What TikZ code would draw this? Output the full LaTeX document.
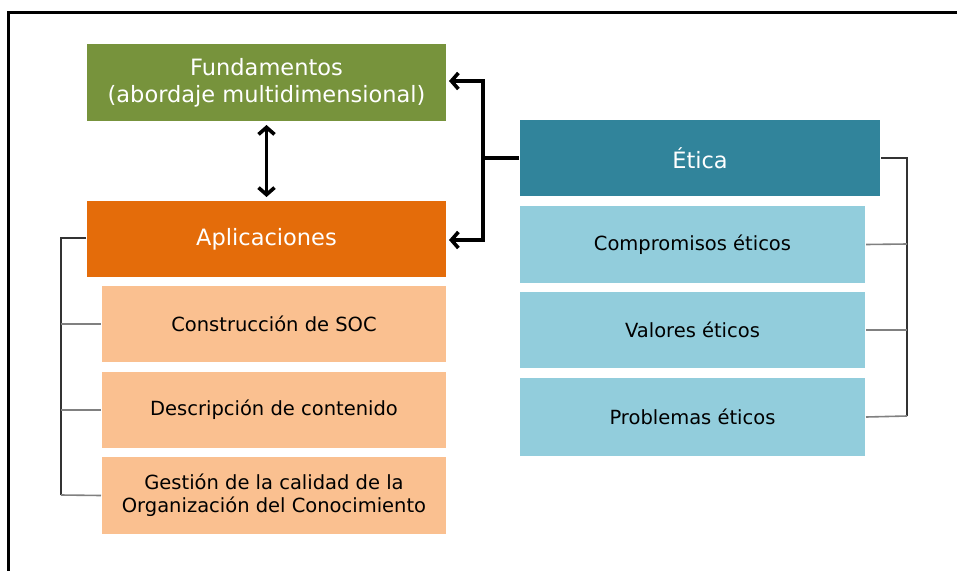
\documentclass[tikz,border=0pt]{standalone}
\usepackage{fontspec}
\setmainfont{DejaVu Sans}
\usetikzlibrary{arrows.meta,calc}
\definecolor{olive}{HTML}{77933C}
\definecolor{orng}{HTML}{E46C0A}
\definecolor{peach}{HTML}{FAC090}
\definecolor{teal}{HTML}{31849B}
\definecolor{lblue}{HTML}{92CDDC}
\tikzset{
  box/.style={draw=white, line width=1pt, inner sep=0pt, align=center, anchor=north west},
  mainbox/.style={box, font=\fontsize{22.5}{27}\selectfont, text=white},
  subbox/.style={box, font=\fontsize{19.5}{23}\selectfont, text=black},
  bigarrow/.style={line width=3.6pt, {Straight Barb[length=7pt,width=16pt]}-{Straight Barb[length=7pt,width=16pt]}},
  onearrow/.style={line width=3.6pt, -{Straight Barb[length=7pt,width=16pt]}},
  brk/.style={draw=black!80, line width=1.6pt},
  tick/.style={draw=black!50, line width=1.6pt}
}
\begin{document}
\begin{tikzpicture}[x=1pt,y=-1pt]
\useasboundingbox (0,0) rectangle (957,570);
\draw[line width=3.2pt] (8.5,572) -- (8.5,12.5) -- (960,12.5);
% left column
\node[mainbox, fill=olive, minimum width=360, minimum height=78] (fund) at (86,43) {Fundamentos\\(abordaje multidimensional)};
\node[mainbox, fill=orng, minimum width=360, minimum height=77] (apl) at (86,200) {Aplicaciones};
\node[subbox, fill=peach, minimum width=345, minimum height=77] (soc) at (101,285) {Construcción de SOC};
\node[subbox, fill=peach, minimum width=345, minimum height=77] (desc) at (101,371) {Descripción de contenido};
\node[subbox, fill=peach, minimum width=345, minimum height=78] (gest) at (101,456) {Gestión de la calidad de la\\Organización del Conocimiento};
% right column
\node[mainbox, fill=teal, minimum width=361, minimum height=77] (etica) at (519,119) {Ética};
\node[subbox, fill=lblue, minimum width=346, minimum height=78] (comp) at (519,205) {Compromisos éticos};
\node[subbox, fill=lblue, minimum width=346, minimum height=77] (val) at (519,291) {Valores éticos};
\node[subbox, fill=lblue, minimum width=346, minimum height=79] (prob) at (519,377) {Problemas éticos};
% arrows
\draw[bigarrow] ([yshift=-3]fund.south) -- ([yshift=3]apl.north);
\coordinate (j) at (483,158);
\draw[line width=3.6pt] (etica.west) -- (j);
\draw[onearrow] ($(j)+(0,1.8)$) |- ([xshift=2]fund.east |- 0,81);
\draw[onearrow] ($(j)+(0,-1.8)$) |- ([xshift=2]apl.east |- 0,240);
% left bracket
\coordinate (lb) at (61,238);
\draw[brk] (apl.west |- lb) -- (lb) -- (61,495);
\draw[tick] (61,324) -- (soc.west);
\draw[tick] (61,410) -- (desc.west);
\draw[tick] (61,495) -- (gest.west);
% right bracket
\coordinate (rb) at (907,158);
\draw[brk] (etica.east) -- (rb) -- (907,416);
\draw[tick] (907,244) -- (comp.east);
\draw[tick] (907,330) -- (val.east);
\draw[tick] (907,416) -- (prob.east);
\end{tikzpicture}
\end{document}
